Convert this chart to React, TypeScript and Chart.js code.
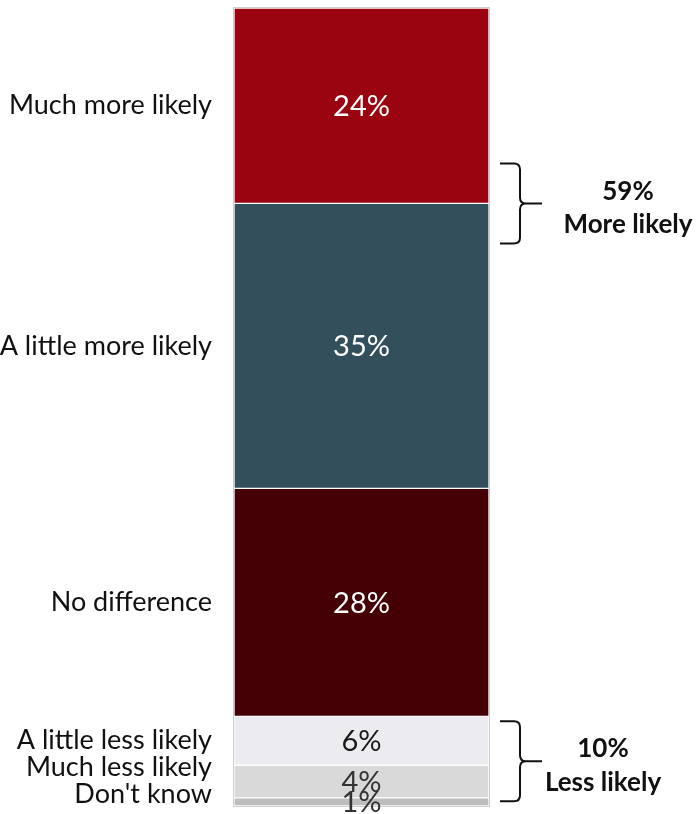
import React, { useEffect, useRef } from "react";
import { Chart, registerables } from "chart.js";

Chart.register(...registerables);

const categories = [
  "Much more likely",
  "A little more likely",
  "No difference",
  "A little less likely",
  "Much less likely",
  "Don't know",
];
const values = [24, 35, 28, 6, 4, 1];
const segmentColors = ["#9a0410", "#334f5c", "#440004", "#ebebf0", "#d9d9d9", "#bdbdbd"];
const valueTextColors = ["#ffffff", "#ffffff", "#ffffff", "#1a1a1a", "#333333", "#333333"];
const summaryValues = ["59%", "10%"];
const summaryLabels = ["More likely", "Less likely"];

export default function App() {
  const ref = useRef<HTMLCanvasElement>(null);

  useEffect(() => {
    if (!ref.current) return;
    const n = categories.length;
    const order = categories.map((_, i) => i).reverse();
    const total = values.reduce((a, b) => a + b, 0);

    const datasets = order.map((i) => ({
      label: categories[i],
      data: [values[i]],
      backgroundColor: segmentColors[i],
      borderColor: "#ffffff",
      borderWidth: 1,
      borderSkipped: false as any,
      barPercentage: 1,
      categoryPercentage: 1,
    }));

    const seg = (chart: any, i: number) => {
      const el: any = chart.getDatasetMeta(n - 1 - i).data[0];
      return { top: Math.min(el.y, el.base), bottom: Math.max(el.y, el.base) };
    };

    const drawBracket = (ctx: CanvasRenderingContext2D, x: number, top: number, bottom: number) => {
      const center = (top + bottom) / 2;
      const armX = x;
      const vx = x + 20;
      const tip = x + 42;
      const r = 6;
      ctx.save();
      ctx.strokeStyle = "#111111";
      ctx.lineWidth = 2;
      ctx.beginPath();
      ctx.moveTo(armX, top);
      ctx.lineTo(vx - r, top);
      ctx.quadraticCurveTo(vx, top, vx, top + r);
      ctx.lineTo(vx, center - r);
      ctx.quadraticCurveTo(vx, center, vx + r, center);
      ctx.lineTo(tip, center);
      ctx.moveTo(vx + r, center);
      ctx.quadraticCurveTo(vx, center, vx, center + r);
      ctx.lineTo(vx, bottom - r);
      ctx.quadraticCurveTo(vx, bottom, vx - r, bottom);
      ctx.lineTo(armX, bottom);
      ctx.stroke();
      ctx.restore();
    };

    const annot = {
      id: "annot",
      beforeDatasetsDraw(chart: any) {
        const { ctx, chartArea } = chart;
        ctx.save();
        ctx.strokeStyle = "#cfcfcf";
        ctx.lineWidth = 1;
        ctx.strokeRect(
          chartArea.left - 0.5,
          chartArea.top - 0.5,
          chartArea.right - chartArea.left + 1,
          chartArea.bottom - chartArea.top + 1
        );
        ctx.restore();
      },
      afterDatasetsDraw(chart: any) {
        const { ctx, chartArea } = chart;
        const cx = (chartArea.left + chartArea.right) / 2;
        ctx.save();
        // value labels
        ctx.textAlign = "center";
        ctx.textBaseline = "middle";
        ctx.font = "29px Lato, 'Open Sans', sans-serif";
        for (let i = 0; i < n; i++) {
          const s = seg(chart, i);
          ctx.fillStyle = valueTextColors[i];
          ctx.fillText(values[i] + "%", cx, (s.top + s.bottom) / 2 + 1);
        }
        // category labels, de-overlapped from the bottom up
        const centers = categories.map((_, i) => {
          const s = seg(chart, i);
          return (s.top + s.bottom) / 2;
        });
        const pos = centers.slice();
        pos[n - 1] = Math.min(centers[n - 1], chartArea.bottom - 12);
        for (let i = n - 2; i >= 0; i--) pos[i] = Math.min(centers[i], pos[i + 1] - 27);
        ctx.textAlign = "right";
        ctx.fillStyle = "#111111";
        ctx.font = "27px Lato, 'Open Sans', sans-serif";
        for (let i = 0; i < n; i++) ctx.fillText(categories[i], chartArea.left - 22, pos[i]);

        // brackets
        const bx = chartArea.right + 11;
        const b1c = seg(chart, 0).bottom;
        drawBracket(ctx, bx, b1c - 40, b1c + 40);
        const b2c = (seg(chart, 3).top + seg(chart, 5).bottom) / 2;
        drawBracket(ctx, bx, b2c - 40, b2c + 40);

        ctx.textAlign = "center";
        ctx.fillStyle = "#111111";
        ctx.font = "bold 26px Lato, 'Open Sans', sans-serif";
        const t1 = chartArea.right + 139;
        ctx.fillText(summaryValues[0], t1, b1c - 12);
        ctx.fillText(summaryLabels[0], t1, b1c + 21);
        const t2 = chartArea.right + 114;
        ctx.fillText(summaryValues[1], t2, b2c - 13);
        ctx.fillText(summaryLabels[1], t2, b2c + 21);
        ctx.restore();
      },
    };

    const chart = new Chart(ref.current, {
      type: "bar",
      data: { labels: [""], datasets },
      options: {
        responsive: false,
        animation: false,
        devicePixelRatio: 1,
        layout: { padding: { left: 234, right: 210, top: 8, bottom: 8 } },
        plugins: { legend: { display: false }, tooltip: { enabled: false } },
        scales: {
          x: { stacked: true, display: false },
          y: { stacked: true, display: false, min: 0, max: total },
        },
      },
      plugins: [annot],
    });
    return () => chart.destroy();
  }, []);

  return (
    <div style={{ position: "absolute", left: 0, top: 0, width: 699, height: 814, background: "#ffffff" }}>
      <canvas ref={ref} width={699} height={814} style={{ display: "block" }} />
    </div>
  );
}
